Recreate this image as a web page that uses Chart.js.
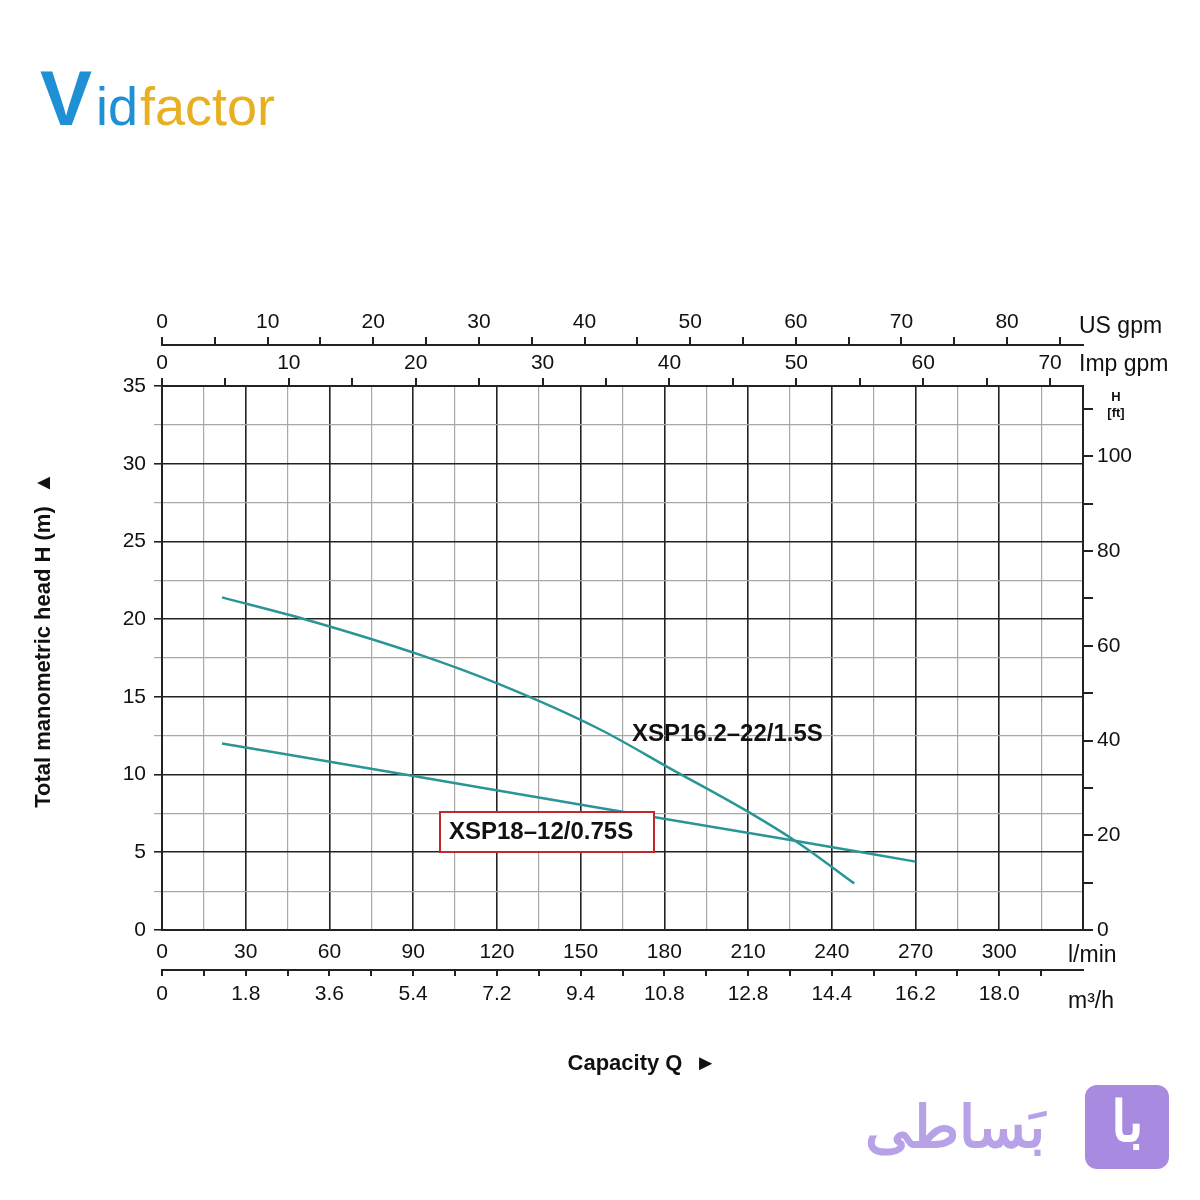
<!DOCTYPE html>
<html><head><meta charset="utf-8">
<script src="https://cdn.jsdelivr.net/npm/chart.js@4/dist/chart.umd.min.js"></script>
<style>html,body{margin:0;padding:0;background:#fff}canvas{display:block}</style>
</head><body>
<div style="width:1200px;height:1200px"><canvas id="c" width="1200" height="1200"></canvas></div>
<script>
// Data (flow in l/min, head in m)
const seriesNames = ["XSP16.2–22/1.5S", "XSP18–12/0.75S"];
const flowA = [21.5, 53, 92.5, 121, 157, 182, 211, 228, 248];
const headA = [21.4, 19.9, 17.7, 15.8, 12.9, 10.4, 7.5, 5.6, 3.0];
const flowB = [21.5, 87, 157, 221.5, 270];
const headB = [12.0, 10.0, 7.85, 5.9, 4.4];
const lminTicks = [0, 30, 60, 90, 120, 150, 180, 210, 240, 270, 300];
const m3hLabels = ["0", "1.8", "3.6", "5.4", "7.2", "9.4", "10.8", "12.8", "14.4", "16.2", "18.0"];
const usTicks = [0, 10, 20, 30, 40, 50, 60, 70, 80];
const impTicks = [0, 10, 20, 30, 40, 50, 60, 70];
const ftTicks = [0, 20, 40, 60, 80, 100];
const headTicks = [0, 5, 10, 15, 20, 25, 30, 35];

const F = "'Liberation Sans', Arial, sans-serif";
const teal = '#2b9596';
const fixH = h => ({afterFit: s => { s.height = h; }});
const fixW = w => ({afterFit: s => { s.width = w; }});
const tickFont = {family: F, size: 21};

const decor = {
  id: 'decor',
  afterDraw(chart) {
    const c = chart.ctx;
    c.save();
    c.fillStyle = '#111'; c.font = '23px ' + F; c.textBaseline = 'middle'; c.textAlign = 'left';
    c.fillText('US gpm', 1079, 327);
    c.fillText('Imp gpm', 1079, 365);
    c.fillText('l/min', 1068, 956);
    c.fillText('m³/h', 1068, 1002);
    c.font = 'bold 13px ' + F; c.textAlign = 'center';
    c.fillText('H', 1116, 397); c.fillText('[ft]', 1116, 413);
    c.font = 'bold 22px ' + F;
    c.fillText('Capacity Q  ►', 642, 1064);
    c.save(); c.translate(44, 640); c.rotate(-Math.PI / 2);
    c.fillText('Total manometric head H (m)  ▲', 0, 0); c.restore();
    c.font = 'bold 24px ' + F; c.textAlign = 'left';
    c.fillText(seriesNames[0], 632, 734);
    c.fillStyle = '#fff'; c.fillRect(440, 812, 214, 40);
    c.strokeStyle = '#c0282a'; c.lineWidth = 2; c.strokeRect(440, 812, 214, 40);
    c.fillStyle = '#111'; c.fillText(seriesNames[1], 449, 832);
    c.font = 'bold 78px ' + F; c.fillStyle = '#1f8fd6'; c.textBaseline = 'alphabetic';
    c.fillText('V', 40, 125);
    c.font = '54px ' + F; c.fillText('id', 96, 125);
    c.fillStyle = '#e8b020'; c.fillText('factor', 140, 125);
    c.fillStyle = '#a88be0';
    c.beginPath(); c.roundRect(1085, 1085, 84, 84, 12); c.fill();
    c.fillStyle = '#fff'; c.font = 'bold 56px "Noto Sans", sans-serif'; c.textAlign = 'center'; c.textBaseline = 'middle';
    c.fillText('با', 1127, 1125);
    c.fillStyle = '#b7a2e8'; c.font = 'bold 58px "Noto Sans", sans-serif';
    c.fillText('بَساطی', 955, 1130);
    c.restore();
  }
};

new Chart(document.getElementById('c'), {
  type: 'line',
  data: {
    datasets: [
      {label: seriesNames[0], data: flowA.map((x, i) => ({x, y: headA[i]})), borderColor: teal, borderWidth: 2.5, pointRadius: 0, cubicInterpolationMode: 'monotone', xAxisID: 'x', yAxisID: 'y'},
      {label: seriesNames[1], data: flowB.map((x, i) => ({x, y: headB[i]})), borderColor: teal, borderWidth: 2.5, pointRadius: 0, cubicInterpolationMode: 'monotone', xAxisID: 'x', yAxisID: 'y'}
    ]
  },
  options: {
    responsive: false, animation: false,
    layout: {padding: {left: 102, right: 57, top: 303, bottom: 185}},
    plugins: {legend: {display: false}, tooltip: {enabled: false}},
    scales: {
      x: {type: 'linear', position: 'bottom', min: 0, max: 330, weight: 1,
        afterBuildTicks: s => { s.ticks = []; for (let v = 0; v <= 330; v += 15) s.ticks.push({value: v}); },
        grid: {color: ctx => (ctx.tick && ctx.tick.value % 30 === 0) ? '#222' : '#a8a8a8', lineWidth: ctx => (ctx.tick && ctx.tick.value % 30 === 0) ? 1.6 : 1.2, drawTicks: false},
        border: {color: '#222', width: 2},
        ticks: {font: tickFont, color: '#111', padding: 10, maxRotation: 0, autoSkip: false, callback: v => lminTicks.includes(v) ? String(v) : ''},
        ...fixH(40)},
      x2: {type: 'linear', position: 'bottom', min: 0, max: 330, weight: 2,
        afterBuildTicks: s => { s.ticks = []; for (let v = 0; v <= 315; v += 15) s.ticks.push({value: v}); },
        grid: {display: true, drawOnChartArea: false, tickLength: 6, color: '#222', lineWidth: 2},
        border: {color: '#222', width: 2},
        ticks: {font: tickFont, color: '#111', padding: 6, maxRotation: 0, autoSkip: false, callback: v => v % 30 === 0 ? m3hLabels[v / 30] : ''},
        ...fixH(45)},
      xus: {type: 'linear', position: 'top', min: 0, max: 330 / 3.785, weight: 2,
        afterBuildTicks: s => { s.ticks = []; for (let v = 0; v <= 85; v += 5) s.ticks.push({value: v}); },
        grid: {display: true, drawOnChartArea: false, tickLength: 8, color: '#222', lineWidth: 2},
        border: {color: '#222', width: 2},
        ticks: {font: tickFont, color: '#111', padding: 2, maxRotation: 0, autoSkip: false, callback: v => usTicks.includes(v) ? String(v) : ''},
        ...fixH(42)},
      ximp: {type: 'linear', position: 'top', min: 0, max: 330 / 4.546, weight: 1,
        afterBuildTicks: s => { s.ticks = []; for (let v = 0; v <= 70; v += 5) s.ticks.push({value: v}); },
        grid: {display: true, drawOnChartArea: false, tickLength: 8, color: '#222', lineWidth: 2},
        border: {color: '#222', width: 2},
        ticks: {font: tickFont, color: '#111', padding: 2, maxRotation: 0, autoSkip: false, callback: v => impTicks.includes(v) ? String(v) : ''},
        ...fixH(41)},
      y: {type: 'linear', position: 'left', min: 0, max: 35,
        afterBuildTicks: s => { s.ticks = []; for (let v = 0; v <= 35; v += 2.5) s.ticks.push({value: v}); },
        grid: {color: ctx => (ctx.tick && ctx.tick.value % 5 === 0) ? '#222' : '#a8a8a8', lineWidth: ctx => (ctx.tick && ctx.tick.value % 5 === 0) ? 1.6 : 1.2, tickLength: 8},
        border: {color: '#222', width: 2},
        ticks: {font: tickFont, color: '#111', padding: 8, autoSkip: false, callback: v => headTicks.includes(v) ? String(v) : ''},
        ...fixW(60)},
      yft: {type: 'linear', position: 'right', min: 0, max: 35 / 0.3048,
        afterBuildTicks: s => { s.ticks = []; for (let v = 0; v <= 110; v += 10) s.ticks.push({value: v}); },
        grid: {display: true, drawOnChartArea: false, tickLength: 10, color: '#222', lineWidth: 2},
        border: {color: '#222', width: 2},
        ticks: {font: tickFont, color: '#111', padding: 4, autoSkip: false, callback: v => ftTicks.includes(v) ? String(v) : ''},
        ...fixW(60)}
    }
  },
  plugins: [decor]
});
</script>
</body></html>
